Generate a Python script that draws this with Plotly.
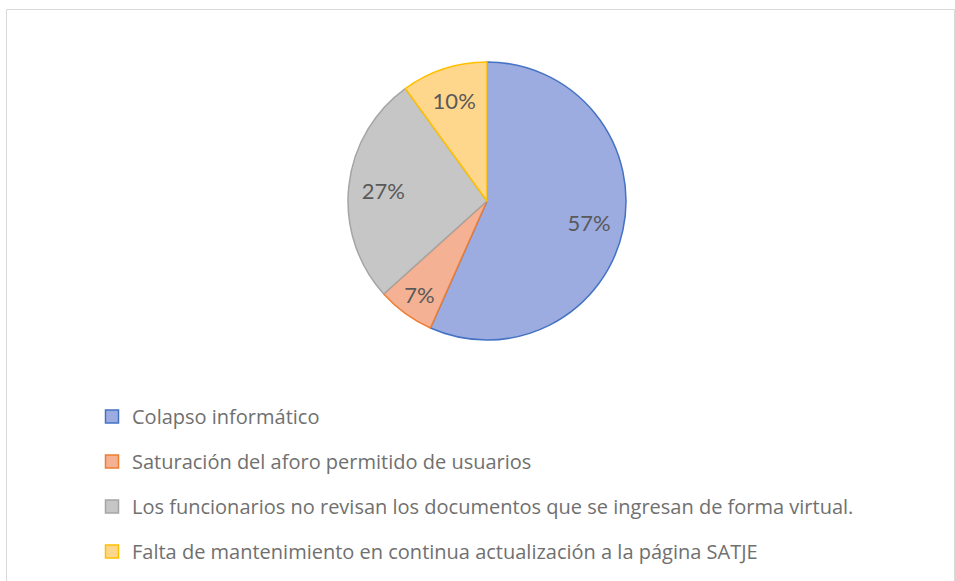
import plotly.graph_objects as go

# Data
categories = [
    "Colapso informático",
    "Saturación del aforo permitido de usuarios",
    "Los funcionarios no revisan los documentos que se ingresan de forma virtual.",
    "Falta de mantenimiento en continua actualización a la página SATJE",
]
values = [17, 2, 8, 3]

fill_colors = ["#9cace0", "#f4b194", "#c6c6c6", "#ffd78c"]
line_colors = ["#4472c4", "#ed7d31", "#a5a5a5", "#ffc000"]

W, H = 955, 581
LABEL_FONT = "Lato"
LEGEND_FONT = "Open Sans"

pie_domain = dict(x=[348 / W, 626 / W], y=[(H - 340) / H, (H - 62) / H])

fig = go.Figure()

# Filled pie slices
fig.add_trace(go.Pie(
    labels=categories,
    values=values,
    sort=False,
    direction="clockwise",
    rotation=0,
    marker=dict(colors=fill_colors, line=dict(color=line_colors, width=1.5)),
    textinfo="none",
    domain=pie_domain,
    showlegend=False,
    hoverinfo="label+percent",
))

# Transparent ring on top, used only to place the percent labels at ~3/4 radius
fig.add_trace(go.Pie(
    labels=categories,
    values=values,
    sort=False,
    direction="clockwise",
    rotation=0,
    hole=0.5,
    marker=dict(colors=["rgba(0,0,0,0)"] * len(values), line=dict(width=0)),
    texttemplate="%{percent:.0%}",
    textposition="inside",
    insidetextorientation="horizontal",
    textfont=dict(family=LABEL_FONT, size=22, color="#595959"),
    domain=pie_domain,
    showlegend=False,
    hoverinfo="skip",
))

# Legend entries (one per category, separate groups for spacing)
for name, fc, lc in zip(categories, fill_colors, line_colors):
    fig.add_trace(go.Scatter(
        x=[None], y=[None], mode="markers", name=name, legendgroup=name,
        marker=dict(symbol="square", size=13, color=fc, line=dict(color=lc, width=1.5)),
        hoverinfo="skip",
    ))

fig.update_layout(
    width=W, height=H,
    margin=dict(l=0, r=0, t=0, b=0),
    paper_bgcolor="white", plot_bgcolor="white",
    xaxis=dict(visible=False), yaxis=dict(visible=False),
    font=dict(family=LEGEND_FONT),
    legend=dict(
        x=92 / W, xanchor="left", y=1 - 397 / H, yanchor="top",
        font=dict(family=LEGEND_FONT, size=20, color="#707070"),
        tracegroupgap=16, traceorder="grouped",
        bgcolor="rgba(0,0,0,0)",
    ),
    shapes=[dict(type="rect", xref="paper", yref="paper",
                 x0=6.5 / W, x1=954.5 / W, y0=-0.05, y1=1 - 9.5 / H,
                 line=dict(color="#d9d9d9", width=1), fillcolor="rgba(0,0,0,0)")],
)

fig.write_html(
    "out.html",
    config={"displayModeBar": False},
    post_script="document.body.style.margin='0';document.body.style.overflow='hidden';",
)
